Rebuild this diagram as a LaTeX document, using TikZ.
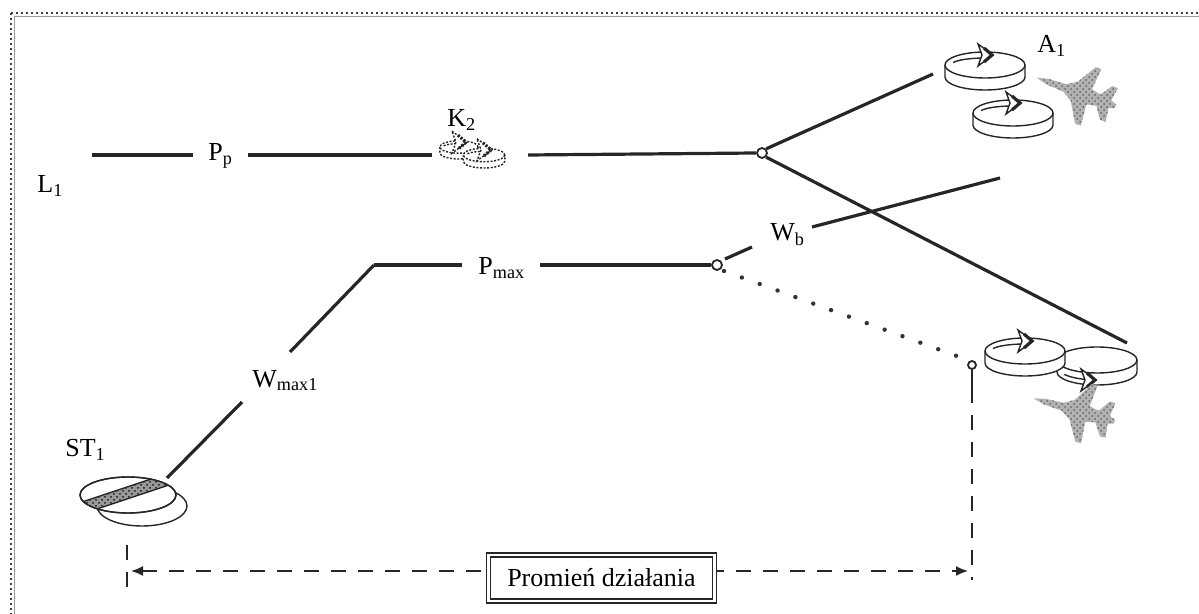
\documentclass[tikz,border=0pt]{standalone}
\usepackage{fontspec}
\setmainfont{Liberation Serif}
\usetikzlibrary{arrows.meta,patterns}

\tikzset{
  wire/.style={line width=1.6pt, draw=black!85},
  lbl/.style={font=\fontsize{13}{15}\selectfont, inner sep=0pt},
  junction/.style={circle, draw=black!85, fill=white, line width=0.9pt, inner sep=0pt, minimum size=5pt},
  dotline/.style={line width=2.2pt, draw=black!80, line cap=round, dash pattern=on 0pt off 9.5pt},
  rangeline/.style={line width=0.8pt, draw=black!85, dash pattern=on 7.5pt off 6pt},
  edge ink/.style={line width=0.7pt, draw=black!85},
  % arrowhead of a rotation mark, pointing along +x
  spinhead/.pic={
    \filldraw[edge ink, fill=white] (-7,-11) -- (8,0) -- (-7,11) -- (-3,0) -- cycle;
    \draw[line width=1.6pt, black!85] (-1,-7) -- (7,0) -- (-1,7);
  },
  % disc seen in perspective, rotation arrow on its far rim
  rotdisk/.pic={
    \draw[edge ink, fill=white] (-40,0) -- (-40,12) arc[start angle=180, end angle=0, x radius=40, y radius=13] -- (40,0);
    \draw[edge ink, fill=white] (0,0) ellipse[x radius=40, y radius=13];
    \draw[edge ink] (200:34 and 7) arc[start angle=200, end angle=262, x radius=34, y radius=7];
    \pic at (0,-10) {spinhead};
  },
  % disc with no rotation mark
  plaindisk/.pic={
    \draw[edge ink, fill=white] (-40,0) -- (-40,12) arc[start angle=180, end angle=0, x radius=40, y radius=13] -- (40,0);
    \draw[edge ink, fill=white] (0,0) ellipse[x radius=40, y radius=13];
  },
  % fighter aircraft silhouette in halftone grey, nose along -x
  jet/.pic={
    \fill[black!30]
      (-42,0) -- (-30,-3) -- (-12,-4) -- (-2,-10) -- (10,-30) -- (16,-30) -- (14,-8)
      -- (24,-6) -- (32,-18) -- (38,-18) -- (36,-4) -- (42,-2) -- (42,2) -- (36,4)
      -- (38,18) -- (32,18) -- (24,6) -- (14,8) -- (16,30) -- (10,30) -- (-2,10)
      -- (-12,4) -- (-30,3) -- cycle;
    \path[pattern=crosshatch dots, pattern color=black!60]
      (-42,0) -- (-30,-3) -- (-12,-4) -- (-2,-10) -- (10,-30) -- (16,-30) -- (14,-8)
      -- (24,-6) -- (32,-18) -- (38,-18) -- (36,-4) -- (42,-2) -- (42,2) -- (36,4)
      -- (38,18) -- (32,18) -- (24,6) -- (14,8) -- (16,30) -- (10,30) -- (-2,10)
      -- (-12,4) -- (-30,3) -- cycle;
  },
}

\begin{document}
\begin{tikzpicture}[x=0.5pt, y=-0.5pt]
\useasboundingbox (0,0) rectangle (1199,614);
\begin{scope}
\clip (0,0) rectangle (1199,614);

% page frame
\draw[black!75, line width=1.3pt, dash pattern=on 1.2pt off 1.3pt] (11,13) rectangle (1300,700);
\draw[black!40, line width=0.3pt] (14,16) rectangle (1300,700);

% ---- upper route L1 -> A1 ----
\node[lbl, anchor=base west] (L1) at (37,193) {L\textsubscript{1}};
\coordinate (pa) at (92,155);
\coordinate (pb) at (193,155);
\node[lbl, anchor=base west] (Pp) at (208,161) {P\textsubscript{p}};
\coordinate (pc) at (248,155);
\coordinate (pd) at (432,155);
\coordinate (pe) at (528,155);
\node[junction] (J1) at (762,153) {};
\draw[wire] (pa) -- (pb);
\draw[wire] (pc) -- (pd);
\draw[wire] (pe) -- (J1.west);

% K2 (dashed pair of discs)
\begin{scope}[black!70]
  \pic[scale=0.48, dash pattern=on 1pt off 0.8pt] at (459,147) {rotdisk};
  \pic[scale=0.52, dash pattern=on 1pt off 0.8pt] at (484,155) {rotdisk};
\end{scope}
\node[lbl, anchor=base west] (K2) at (447,127) {K\textsubscript{2}};

% A1 group
\pic at (985,65) {rotdisk};
\pic at (1013,113) {rotdisk};
\pic[rotate=-20] at (1076,92) {jet};
\node[lbl, anchor=base west] (A1) at (1037,53) {A\textsubscript{1}};
\coordinate (a1in) at (933,74);
\coordinate (d34in) at (1127,343);
\draw[wire] (J1.north east) -- (a1in);
\draw[wire] (J1.south east) -- (d34in);

% ---- lower route ST1 -> Pmax ----
\coordinate (wb1) at (812,227);
\coordinate (wb2) at (1000,178);
\draw[wire] (wb1) -- (wb2);
\node[lbl, anchor=base west] (Wb) at (770,241) {W\textsubscript{b}};

\coordinate (ma) at (374,265);
\coordinate (mb) at (462,265);
\node[lbl, anchor=base west] (Pmax) at (478,275) {P\textsubscript{max}};
\coordinate (mc) at (540,265);
\node[junction] (J2) at (717,265) {};
\draw[wire] (ma) -- (mb);
\draw[wire] (mc) -- (J2.west);
\coordinate (sa) at (725,259);
\coordinate (sb) at (752,247);
\draw[wire] (sa) -- (sb);

\coordinate (w1) at (290,352);
\coordinate (w2) at (242,402);
\coordinate (st) at (167,478);
\draw[wire] (ma) -- (w1);
\draw[wire] (w2) -- (st);
\node[lbl, anchor=base west] (Wmax) at (252,387) {W\textsubscript{max1}};

% dotted connection to the second group
\node[junction, minimum size=4pt] (J3) at (972,365) {};
\coordinate (dt1) at (724,271);
\coordinate (dt2) at (965,359);
\draw[dotline] (dt1) -- (dt2);

% second group of discs and aircraft
\pic at (1097,360) {plaindisk};
\draw[edge ink] ([shift={(1097,367)}]145:40 and 13) arc[start angle=145, end angle=103, x radius=40, y radius=13];
\pic at (1088,380) {spinhead};
\pic at (1025,351) {rotdisk};
\pic[rotate=-16] at (1074,410) {jet};

% ST1 disc with hatched band
\node[lbl, anchor=base west] (ST1) at (65,457) {ST\textsubscript{1}};
\draw[edge ink, fill=white] (142,506) ellipse[x radius=45, y radius=20];
\draw[edge ink, fill=white] (128,495) ellipse[x radius=48, y radius=18];
\begin{scope}
  \clip (128,495) ellipse[x radius=48, y radius=18];
  \fill[black!40] (70,506) -- (190,466) -- (190,478) -- (70,518) -- cycle;
  \fill[pattern=crosshatch dots, pattern color=black!90] (70,506) -- (190,466) -- (190,478) -- (70,518) -- cycle;
  \draw[edge ink] (70,506) -- (190,466);
  \draw[edge ink] (70,518) -- (190,478);
\end{scope}
\draw[edge ink] (128,495) ellipse[x radius=48, y radius=18];

% ---- range of action ----
\coordinate (vl1) at (127,545);
\coordinate (vl2) at (127,594);
\draw[rangeline] (vl1) -- (vl2);
\coordinate (vr1) at (972,388);
\coordinate (vr2) at (972,580);
\draw[wire, line width=1pt] (J3.south) -- (vr1);
\draw[rangeline, line width=1pt] (vr1) -- (vr2);
\coordinate (rl) at (131,571);
\coordinate (rr) at (968,571);
\draw[rangeline, {Latex[length=6pt,width=5pt]}-{Latex[length=6pt,width=5pt]}] (rl) -- (rr);
\node[lbl, draw=black!85, fill=white, line width=0.6pt, double, double distance=1.4pt,
      minimum width=113pt, minimum height=23pt] (range) at (601.5,578) {Promień działania};

\end{scope}
\end{tikzpicture}
\end{document}
